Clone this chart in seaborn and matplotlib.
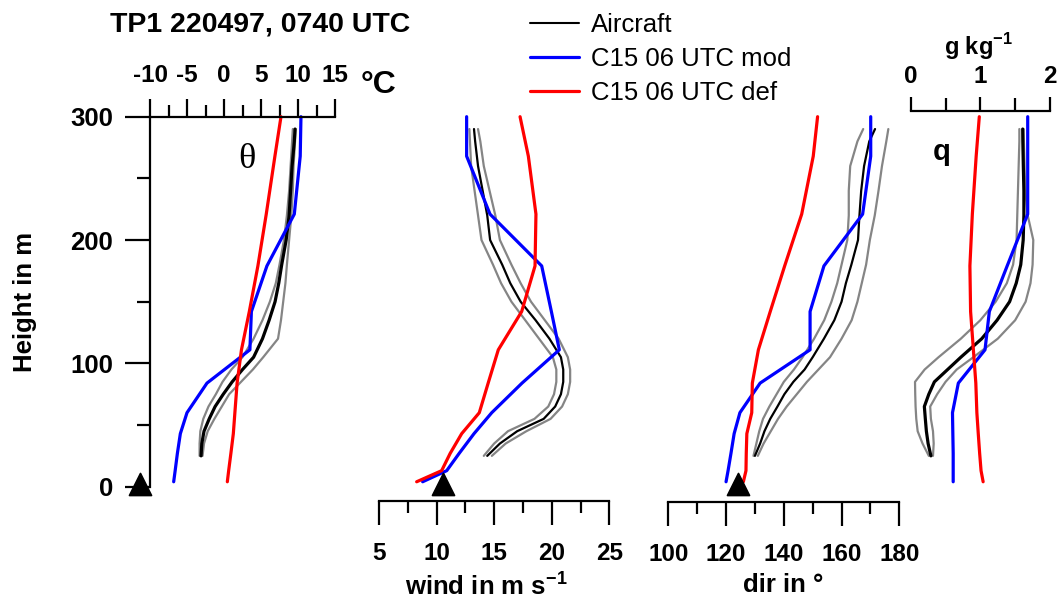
import numpy as np
import pandas as pd
import matplotlib
matplotlib.use("Agg")
import matplotlib.pyplot as plt
from matplotlib.lines import Line2D
import seaborn as sns

# ---------------- data ----------------
# model levels (m)
model_height = [4, 13, 27, 43, 60, 84, 111, 142, 179, 221, 268, 300]
theta_mod = [-6.8, -6.6, -6.3, -5.9, -5.0, -2.3, 3.5, 3.7, 5.8, 9.5, 10.3, 10.4]
theta_def = [0.45, 0.63, 0.93, 1.26, 1.47, 1.77, 2.36, 3.42, 4.58, 5.71, 6.88, 7.70]
wind_mod = [8.79, 10.88, 11.96, 13.25, 14.79, 17.42, 20.66, 19.97, 19.13, 14.64, 12.61, 12.61]
wind_def = [8.27, 10.44, 11.18, 12.18, 13.71, 14.48, 15.36, 17.39, 18.55, 18.63, 17.97, 17.25]
dir_mod = [120.0, 120.7, 121.7, 122.8, 124.8, 131.8, 149.1, 149.1, 153.9, 167.3, 170.1, 170.1]
dir_def = [126.0, 126.9, 127.0, 127.2, 128.9, 129.1, 131.2, 135.3, 140.3, 146.2, 150.2, 151.7]
q_mod = [0.61, 0.61, 0.61, 0.605, 0.60, 0.684, 1.067, 1.129, 1.385, 1.68, 1.68, 1.68]
q_def = [1.04, 1.01, 0.99, 0.97, 0.95, 0.935, 0.90, 0.86, 0.85, 0.885, 0.94, 0.985]

# aircraft profile (mean and envelope)
air_height = [25, 35, 45, 55, 65, 75, 85, 95, 105, 120, 135, 150, 165, 180, 200, 220, 240, 260, 280, 290]
theta_air = [-3.1, -3.0, -2.7, -2.0, -1.2, -0.1, 1.1, 2.5, 4.0, 5.2, 6.1, 6.9, 7.4, 7.8, 8.4, 8.8, 9.0, 9.2, 9.5, 9.6]
theta_air_lo = [-3.3, -3.3, -3.2, -2.8, -2.1, -1.1, -0.2, 1.0, 2.5, 4.0, 5.2, 6.2, 7.0, 7.5, 8.1, 8.5, 8.8, 9.0, 9.2, 9.3]
theta_air_hi = [-2.9, -2.7, -2.2, -1.3, -0.3, 0.7, 2.3, 3.9, 5.3, 7.3, 7.7, 8.0, 8.3, 8.5, 8.8, 9.1, 9.3, 9.4, 9.6, 9.7]
wind_air = [14.4, 15.5, 17.0, 19.3, 20.3, 20.8, 21.0, 21.0, 20.8, 19.8, 18.6, 17.3, 16.4, 15.7, 14.65, 14.4, 14.0, 13.6, 13.35, 13.25]
wind_air_lo = [14.1, 15.0, 16.2, 18.5, 19.7, 20.2, 20.4, 20.4, 20.1, 18.9, 17.7, 16.5, 15.6, 14.9, 13.9, 13.6, 13.3, 13.0, 12.9, 12.85]
wind_air_hi = [14.8, 16.0, 17.8, 19.9, 20.9, 21.4, 21.6, 21.6, 21.4, 20.6, 19.4, 18.2, 17.3, 16.5, 15.5, 15.1, 14.6, 14.1, 13.8, 13.6]
dir_air = [130.0, 131.8, 133.3, 135.3, 137.8, 140.2, 143.3, 147.2, 150.0, 153.9, 157.5, 160.0, 161.5, 163.4, 165.7, 166.2, 166.8, 167.8, 169.6, 171.6]
dir_air_lo = [129.5, 130.5, 131.5, 132.8, 135.0, 137.5, 140.0, 143.5, 146.5, 150.5, 154.0, 156.5, 158.5, 160.0, 162.0, 162.5, 162.5, 163.0, 165.5, 167.5]
dir_air_hi = [131.0, 133.0, 135.5, 138.0, 141.0, 144.5, 148.0, 152.0, 156.0, 160.0, 163.5, 165.5, 167.0, 168.5, 169.8, 171.5, 172.8, 174.0, 175.5, 176.2]
q_air = [0.29, 0.25, 0.225, 0.21, 0.196, 0.26, 0.34, 0.53, 0.72, 1.02, 1.24, 1.42, 1.515, 1.58, 1.615, 1.625, 1.625, 1.617, 1.61, 1.608]
q_air_lo = [0.26, 0.17, 0.10, 0.08, 0.07, 0.065, 0.062, 0.20, 0.40, 0.72, 1.00, 1.22, 1.38, 1.47, 1.52, 1.53, 1.54, 1.55, 1.56, 1.56]
q_air_hi = [0.32, 0.33, 0.32, 0.29, 0.28, 0.38, 0.50, 0.66, 0.90, 1.25, 1.50, 1.65, 1.72, 1.75, 1.76, 1.68, 1.645, 1.635, 1.625, 1.62]

# surface observations (height ~0 m)
surf_height = [2]
theta_surf = [-11.35]
wind_surf = [10.53]
dir_surf = [124.0]

legend_labels = ["Aircraft", "C15 06 UTC mod", "C15 06 UTC def"]
title = "TP1 220497, 0740 UTC"

# ---------------- style ----------------
sns.set_style("white")
plt.rcParams['font.family'] = ['Liberation Sans', 'DejaVu Sans']
plt.rcParams['font.weight'] = 'bold'
plt.rcParams['text.color'] = 'black'
plt.rcParams['axes.labelcolor'] = 'black'
plt.rcParams['xtick.color'] = 'black'
plt.rcParams['ytick.color'] = 'black'
plt.rcParams['axes.unicode_minus'] = False
plt.rcParams['mathtext.fontset'] = 'custom'
plt.rcParams['mathtext.rm'] = 'Liberation Sans:bold'
plt.rcParams['mathtext.bf'] = 'Liberation Sans:bold'

W, H = 1058, 599
fig = plt.figure(figsize=(W / 100, H / 100), dpi=100)
fig.patch.set_facecolor('white')

y0, y300 = 486.7, 116.7
bot = 1 - y0 / H
hgt = (y0 - y300) / H

ax_t = fig.add_axes([150 / W, bot, 185 / W, hgt])
ax_w = fig.add_axes([379 / W, bot, 230.3 / W, hgt])
ax_d = fig.add_axes([668.3 / W, bot, 231 / W, hgt])
ax_q = fig.add_axes([910.7 / W, bot, 139.3 / W, hgt])

GRAY = '#858585'
BLUE = '#0000FF'
RED = '#FF0000'
LW_MODEL = 2.3
TICK_LS = 17.5
SPINE_W = 1.6


def profile(ax, x, y, color, lw):
    sns.lineplot(x=x, y=y, sort=False, estimator=None, color=color, lw=lw,
                 ax=ax, clip_on=False, legend=False)


panels = [
    (ax_t, theta_air, theta_air_lo, theta_air_hi, theta_mod, theta_def, 2.3),
    (ax_w, wind_air, wind_air_lo, wind_air_hi, wind_mod, wind_def, 1.6),
    (ax_d, dir_air, dir_air_lo, dir_air_hi, dir_mod, dir_def, 1.6),
    (ax_q, q_air, q_air_lo, q_air_hi, q_mod, q_def, 2.3),
]
for ax, a, lo, hi, mod, dflt, blw in panels:
    profile(ax, lo, air_height, GRAY, 1.6)
    profile(ax, hi, air_height, GRAY, 1.6)
    profile(ax, a, air_height, 'black', blw)
    profile(ax, mod, model_height, BLUE, LW_MODEL)
    profile(ax, dflt, model_height, RED, LW_MODEL)

for ax, xs in [(ax_t, theta_surf), (ax_w, wind_surf), (ax_d, dir_surf)]:
    sns.scatterplot(x=xs, y=surf_height, marker='^', s=250, color='black',
                    edgecolor='black', ax=ax, clip_on=False, legend=False, zorder=5)

for ax in [ax_t, ax_w, ax_d, ax_q]:
    ax.set_ylim(0, 300)
    ax.patch.set_visible(False)
    for s in ax.spines.values():
        s.set_visible(False)
        s.set_linewidth(SPINE_W)
        s.set_color('black')
    ax.set_xlabel('')
    ax.set_ylabel('')

# --- theta panel: left height axis + top temperature axis
ax_t.set_xlim(-10, 15)
ax_t.spines['left'].set_visible(True)
ax_t.spines['top'].set_visible(True)
ax_t.xaxis.tick_top()
ax_t.set_xticks([-10, -5, 0, 5, 10, 15])
ax_t.set_xticks([-7.5, -2.5, 2.5, 7.5, 12.5], minor=True)
ax_t.tick_params(axis='x', which='major', direction='out', length=13.2, width=SPINE_W,
                 pad=8, labelsize=TICK_LS, top=True, bottom=False)
ax_t.tick_params(axis='x', which='minor', direction='out', length=8.4, width=SPINE_W,
                 top=True, bottom=False)
ax_t.set_yticks([0, 100, 200, 300])
ax_t.set_yticks([50, 150, 250], minor=True)
ax_t.tick_params(axis='y', which='major', direction='out', length=18, width=SPINE_W,
                 pad=8.6, labelsize=18.5, left=True)
ax_t.tick_params(axis='y', which='minor', direction='out', length=9.6, width=SPINE_W, left=True)
ax_t.set_ylabel('Height in m', fontsize=18.5, fontweight='bold')
ax_t.yaxis.set_label_coords((36.7 - 150) / 185, 0.5)

# --- wind panel
ax_w.set_xlim(5, 25)
ax_w.spines['bottom'].set_visible(True)
ax_w.spines['bottom'].set_position(('outward', 10.1))
ax_w.set_xticks([5, 10, 15, 20, 25])
ax_w.set_xticks([7.5, 12.5, 17.5, 22.5], minor=True)
ax_w.tick_params(axis='x', which='major', direction='out', length=17.5, width=SPINE_W,
                 pad=12, labelsize=TICK_LS, bottom=True)
ax_w.tick_params(axis='x', which='minor', direction='out', length=8.6, width=SPINE_W, bottom=True)
ax_w.set_yticks([])
ax_w.set_xlabel(r'wind in m s$^{\mathbf{-1}}$', fontsize=18.5, fontweight='bold')
ax_w.xaxis.set_label_coords((486.7 - 379) / 230.3, -(572 - 486.7) / 370)

# --- direction panel
ax_d.set_xlim(100, 180)
ax_d.spines['bottom'].set_visible(True)
ax_d.spines['bottom'].set_position(('outward', 11.2))
ax_d.set_xticks([100, 120, 140, 160, 180])
ax_d.set_xticks([110, 130, 150, 170], minor=True)
ax_d.tick_params(axis='x', which='major', direction='out', length=17.5, width=SPINE_W,
                 pad=12, labelsize=TICK_LS, bottom=True)
ax_d.tick_params(axis='x', which='minor', direction='out', length=8.6, width=SPINE_W, bottom=True)
ax_d.set_yticks([])
ax_d.set_xlabel('dir in °', fontsize=18.5, fontweight='bold')
ax_d.xaxis.set_label_coords(0.497, -(573 - 486.7) / 370)

# --- humidity panel
ax_q.set_xlim(0, 2)
ax_q.spines['top'].set_visible(True)
ax_q.spines['top'].set_position(('outward', 4.1))
ax_q.xaxis.tick_top()
ax_q.set_xticks([0, 1, 2])
ax_q.set_xticks([0.5, 1.5], minor=True)
ax_q.tick_params(axis='x', which='major', direction='out', length=10.3, width=SPINE_W,
                 pad=6, labelsize=TICK_LS, top=True, bottom=False)
ax_q.tick_params(axis='x', which='minor', direction='out', length=9.2, width=SPINE_W,
                 top=True, bottom=False)
ax_q.set_yticks([])
ax_q.xaxis.set_label_position('top')
ax_q.set_xlabel(r'g kg$^{\mathbf{-1}}$', fontsize=17, fontweight='bold')
ax_q.xaxis.set_label_coords(0.49, 1 + (116.7 - 55) / 370)

# --- texts
fig.text(110 / W, 1 - 32 / H, title, fontsize=20.5, fontweight='bold', ha='left', va='baseline')
fig.text(361 / W, 1 - 93 / H, '°C', fontsize=23, fontweight='bold', ha='left', va='baseline')
fig.text(246.7 / W, 1 - 159 / H, 'θ', family=['Liberation Serif', 'DejaVu Serif'],
         fontsize=26, fontweight='normal', ha='center', va='center')
fig.text(942 / W, 1 - 152 / H, 'q', fontsize=21, fontweight='bold', ha='center', va='center')

handles = [Line2D([], [], color='black', lw=1.5),
           Line2D([], [], color=BLUE, lw=LW_MODEL),
           Line2D([], [], color=RED, lw=LW_MODEL)]
fig.legend(handles, legend_labels, loc='upper left', bbox_to_anchor=(530 / W, 1 - 13 / H),
           frameon=False, prop={'weight': 'normal', 'size': 18.5},
           handlelength=1.92, handletextpad=0.44, labelspacing=0.38,
           borderpad=0, borderaxespad=0)

fig.savefig('out.png', dpi=100, facecolor='white')
